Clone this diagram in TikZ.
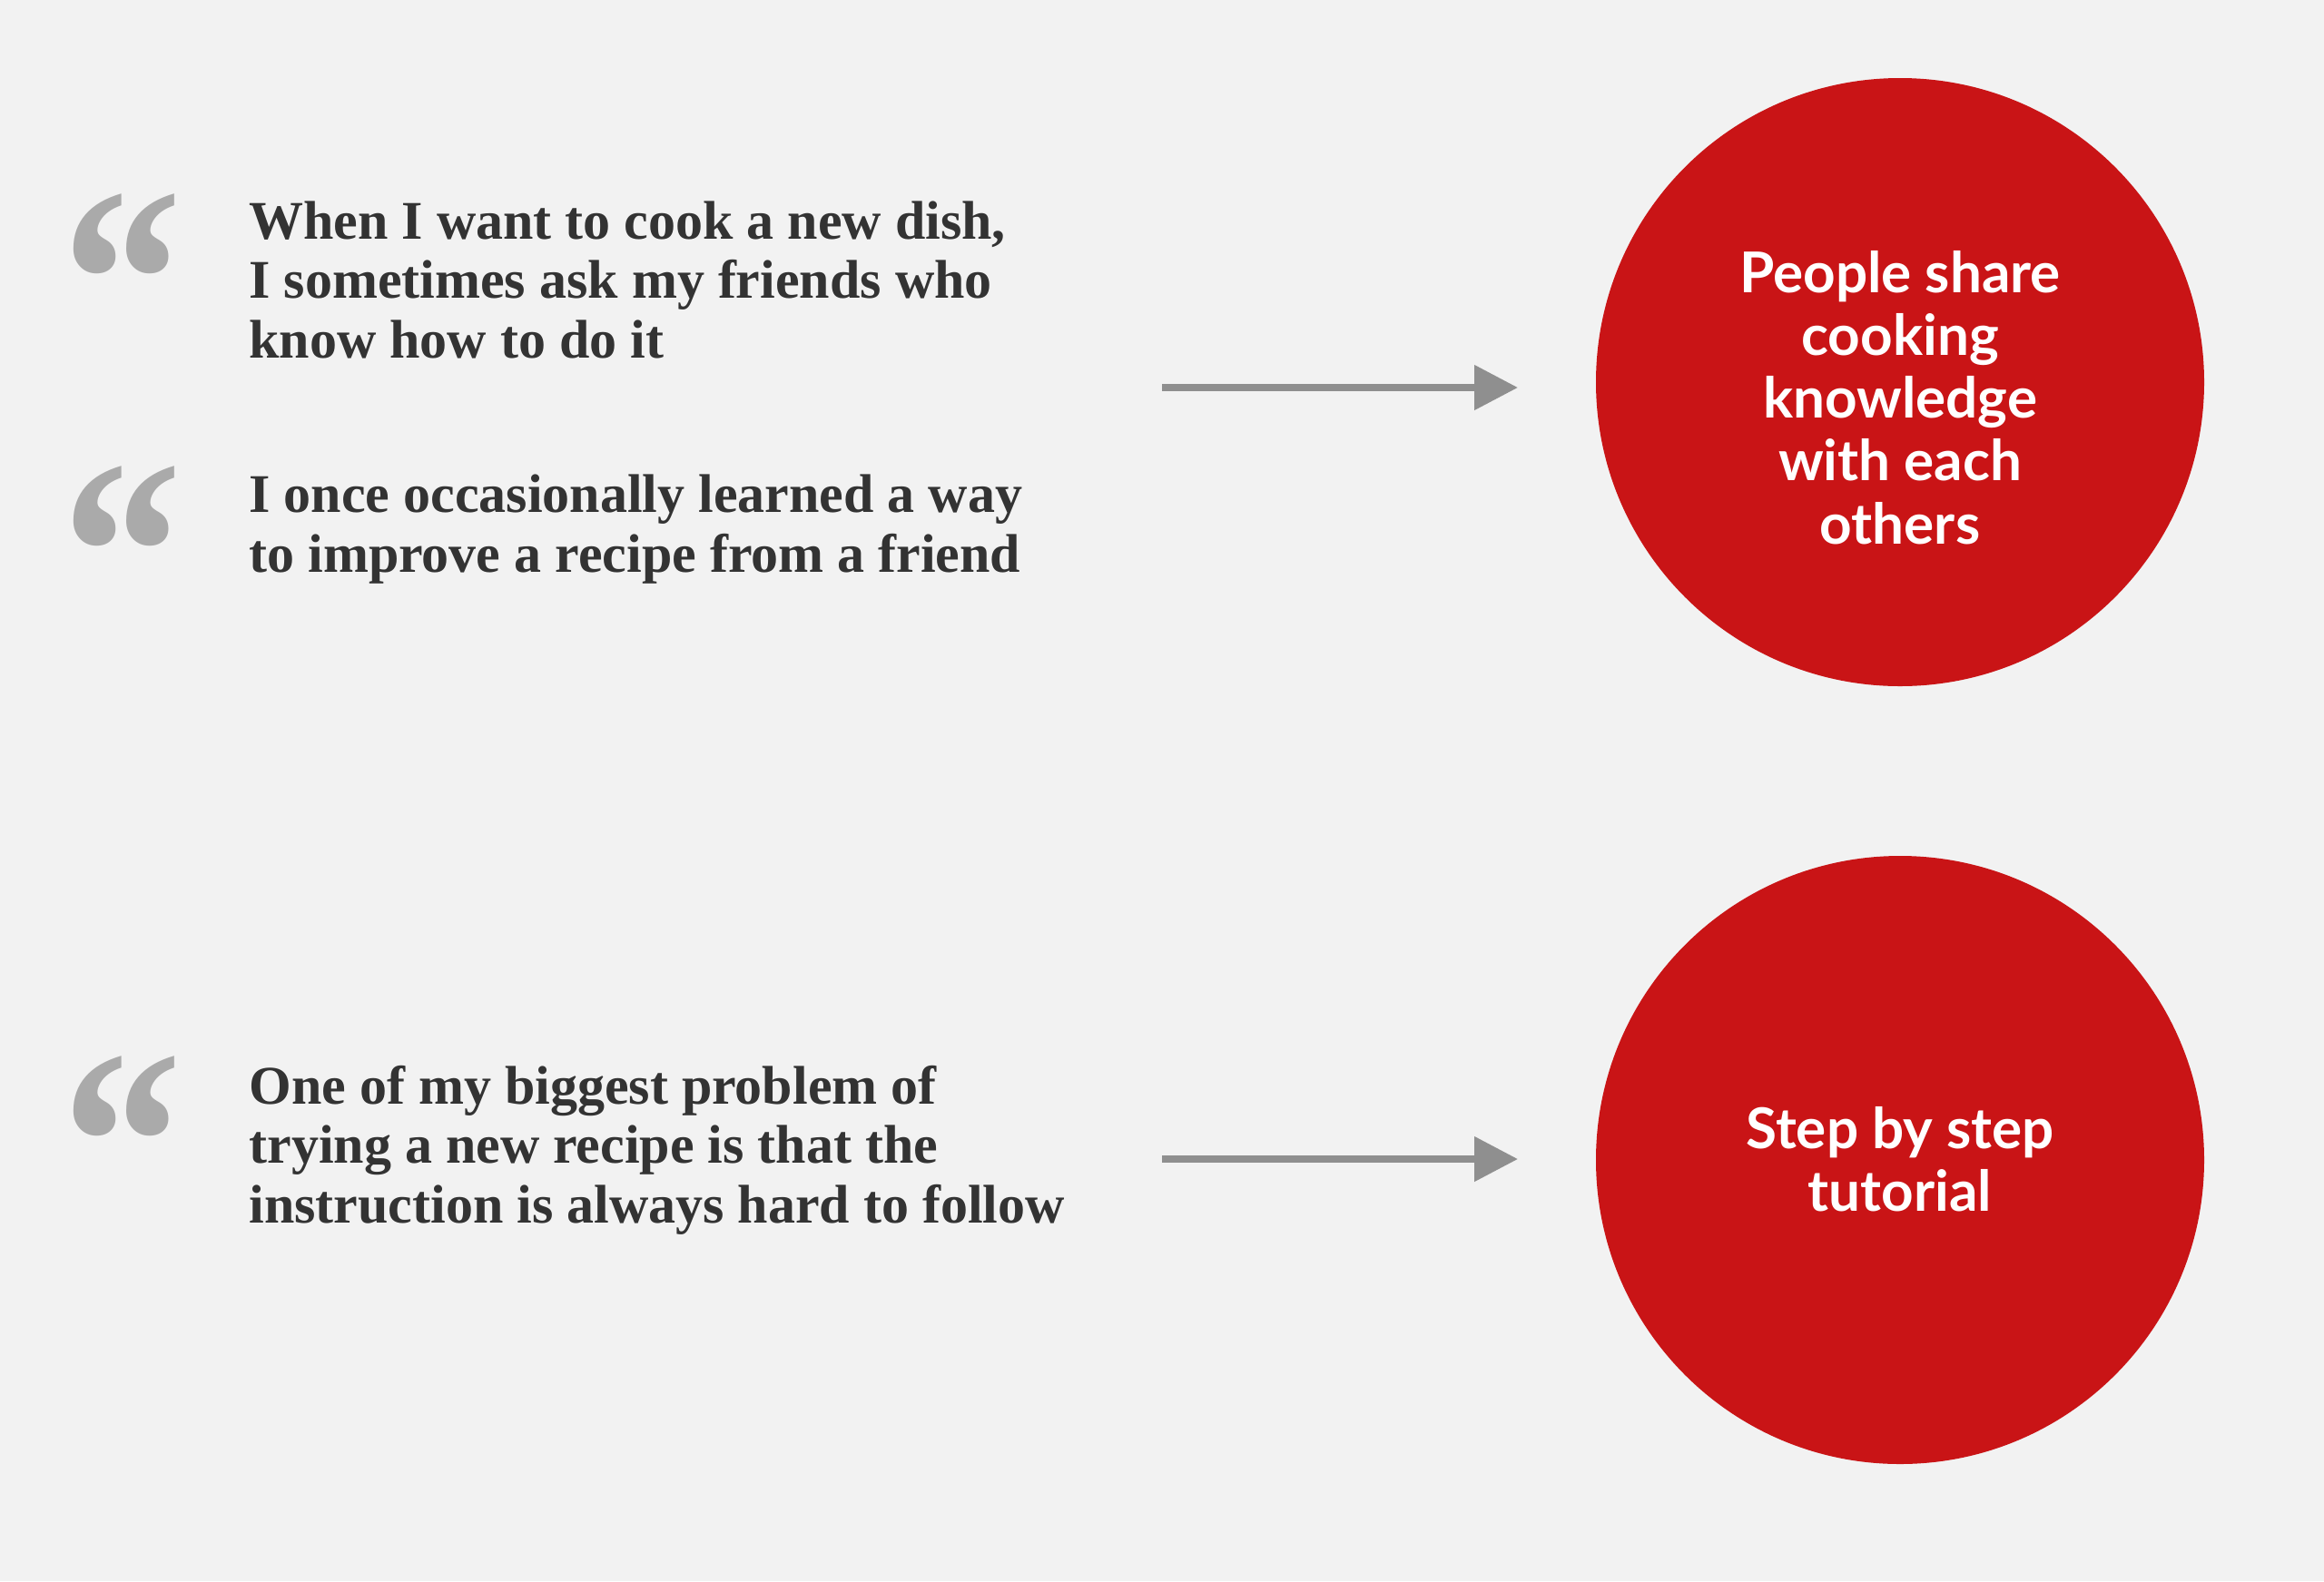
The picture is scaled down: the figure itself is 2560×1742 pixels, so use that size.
\documentclass[tikz,border=0pt]{standalone}
\usepackage{fontspec}
\usetikzlibrary{arrows.meta}
\setmainfont{Liberation Serif}
\newfontfamily\circfont{Lato}
\definecolor{bgpaper}{HTML}{F2F2F2}
\definecolor{quotegray}{HTML}{AAAAAA}
\definecolor{inkdark}{HTML}{333333}
\definecolor{arrowgray}{HTML}{8F8F8F}
\definecolor{ideared}{HTML}{C91416}
\newcommand{\bigquote}{\scalebox{1}[1.1]{“}}
\tikzset{
  quotemark/.style={anchor=base west, inner sep=0pt, text=quotegray,
    font=\fontsize{132.5}{132.5}\selectfont\bfseries},
  quotetext/.style={anchor=base west, inner sep=0pt, align=left, text=inkdark,
    font=\fontsize{30}{32.6}\selectfont\bfseries},
  ideacircle/.style={circle, fill=ideared, draw=none, minimum size=335pt, inner sep=0pt},
  idealabel/.style={inner sep=0pt, align=center, text=white,
    font=\circfont\fontsize{31}{34.6}\selectfont\bfseries},
  flowarrow/.style={draw=arrowgray, line width=4pt,
    -{Triangle[length=24pt, width=24pt]}}
}
\begin{document}
\begin{tikzpicture}[x=0.5pt, y=-0.5pt]
  % page and background
  \fill[bgpaper] (0,0) rectangle (2560,1742);
  \useasboundingbox (0,0) rectangle (2560,1742);

  % quotations (each text node is anchored at the baseline of its last line)
  \node[quotemark] (q1) at (68,407) {\bigquote};
  \node[quotetext] (t1) at (274,394) {When I want to cook a new dish,\\I sometimes ask my friends who\\know how to do it};
  \node[quotemark] (q2) at (68,707) {\bigquote};
  \node[quotetext] (t2) at (274,630) {I once occasionally learned a way\\to improve a recipe from a friend};
  \node[quotemark] (q3) at (68,1357) {\bigquote};
  \node[quotetext] (t3) at (274,1347) {One of my biggest problem of\\trying a new recipe is that the\\instruction is always hard to follow};

  % insights
  \node[ideacircle] (c1) at (2093,421) {};
  \node[idealabel] (l1) at (2093,438) {People share\\cooking\\knowledge\\with each\\others};
  \node[ideacircle] (c2) at (2093,1278) {};
  \node[idealabel] (l2) at (2093,1277) {Step by step\\tutorial};

  % connectors
  \coordinate (s1) at (1280,427);
  \coordinate (e1) at (1672,427);
  \coordinate (s2) at (1280,1277);
  \coordinate (e2) at (1672,1277);
  \draw[flowarrow] (s1) -- (e1);
  \draw[flowarrow] (s2) -- (e2);
\end{tikzpicture}
\end{document}
